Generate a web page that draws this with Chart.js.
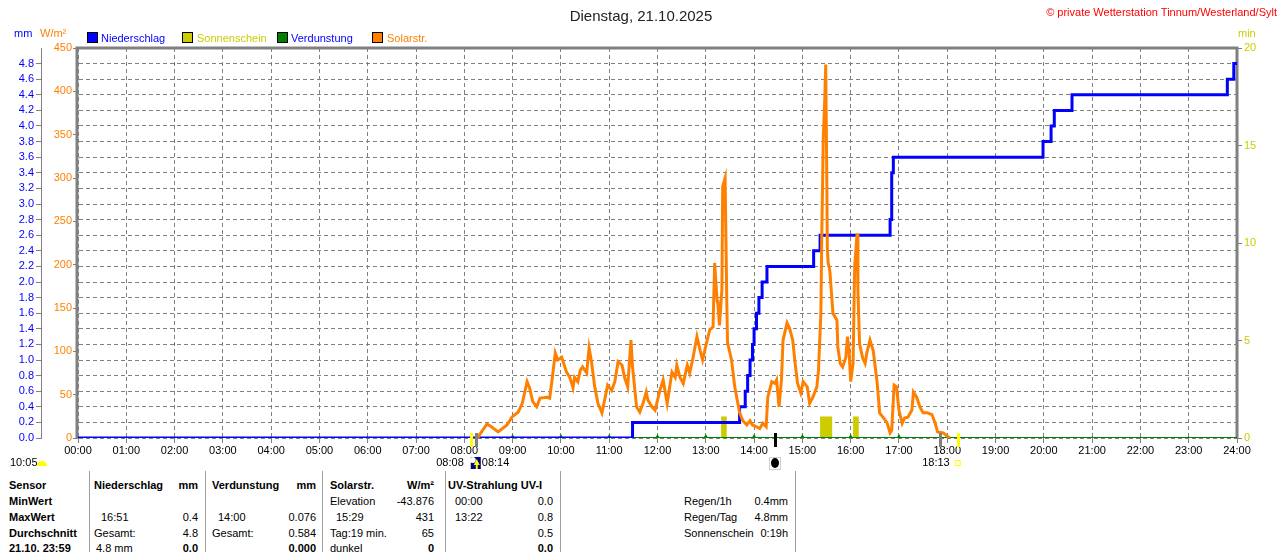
<!DOCTYPE html>
<html>
<head>
<meta charset="utf-8">
<script src="https://cdn.jsdelivr.net/npm/chart.js@4.4.1/dist/chart.umd.min.js"></script>
<style>
  body { margin: 0; background: #fff; font-family: 'Liberation Sans', Arial, sans-serif; }
  #wrap { position: relative; width: 1280px; height: 552px; overflow: hidden; background: #fff; }
  #chart { position: absolute; left: 0; top: 0; }
  .t { position: absolute; font-size: 11px; line-height: 14px; white-space: nowrap; color: #000; }
  .b { font-weight: bold; }
  .sq { position: absolute; width: 9px; height: 9px; border: 1px solid #000; }
  .sep { position: absolute; top: 471px; width: 1px; height: 81px; background: #a0a0a0; }
</style>
</head>
<body>
<div id="wrap">
  <canvas id="chart" width="1280" height="470"></canvas>

  <div class="t" style="left:0;width:1282px;top:7px;text-align:center;font-size:15px;line-height:18px;color:#222">Dienstag, 21.10.2025</div>
  <div class="t" style="right:3px;top:5px;color:#ff0000">© private Wetterstation Tinnum/Westerland/Sylt</div>

  <div class="t" style="left:14px;top:26px;color:#0000ff">mm</div>
  <div class="t" style="left:40px;top:26px;color:#ff8000">W/m²</div>
  <div class="t" style="left:1238px;top:26px;color:#cccc00">min</div>

  <div class="sq" style="left:87px;top:32px;background:#0000ff"></div>
  <div class="t" style="left:101px;top:31px;color:#0000ff">Niederschlag</div>
  <div class="sq" style="left:182px;top:32px;background:#cccc00"></div>
  <div class="t" style="left:197px;top:31px;color:#cccc00">Sonnenschein</div>
  <div class="sq" style="left:277px;top:32px;background:#008000"></div>
  <div class="t" style="left:291px;top:31px;color:#0000ff">Verdunstung</div>
  <div class="sq" style="left:372px;top:32px;background:#ff8000"></div>
  <div class="t" style="left:387px;top:31px;color:#ff8000">Solarstr.</div>

  <div id="table"></div>
</div>

<script>
// Zeit in Minuten seit 00:00
const rainMin = [0, 689, 822, 829, 832, 835, 838, 840, 843, 846, 850, 856, 914, 922, 1009, 1011, 1013, 1199, 1209, 1213, 1235, 1428, 1436, 1440];
const rainMm  = [0, 0.2, 0.4, 0.6, 0.8, 1.0, 1.2, 1.4, 1.6, 1.8, 2.0, 2.2, 2.4, 2.6, 2.8, 3.4, 3.6, 3.8, 4.0, 4.2, 4.4, 4.6, 4.8, 4.8];

const solarMin = [494, 497, 502, 508, 512, 522, 533, 539, 547, 552, 558, 561, 565, 570, 574, 583, 586, 589, 593, 596,
  601, 607, 611, 615, 617, 621, 624, 627, 632, 635, 638, 642, 646, 651, 655, 658, 663, 667, 671, 676,
  679, 683, 687, 689, 694, 698, 702, 706, 708, 713, 717, 723, 727, 732, 738, 742, 744, 748, 752, 757,
  760, 764, 769, 773, 776, 781, 785, 789, 791, 794, 795, 797, 800, 801, 804, 806, 807, 812, 816, 819,
  822, 826, 831, 835, 838, 843, 847, 851, 855, 857, 862, 866, 868, 871, 874, 876, 881, 884, 888, 891,
  894, 898, 901, 906, 909, 913, 918, 920, 923, 924, 926, 928, 929, 930, 931, 932, 934, 938, 943, 944,
  947, 950, 954, 956, 958, 960, 963, 965, 968, 969, 971, 975, 978, 980, 984, 988, 990, 993, 996, 1000,
  1005, 1009, 1011, 1014, 1017, 1020, 1024, 1027, 1031, 1036, 1038, 1042, 1046, 1050, 1055, 1061, 1065, 1068, 1075, 1079, 1083];
const solarW = [0, 1, 8, 16, 14, 7, 15, 24, 30, 40, 65, 58, 42, 36, 46, 47, 46, 67, 98, 90,
  93, 76, 70, 58, 70, 65, 78, 82, 75, 104, 88, 59, 40, 29, 47, 61, 55, 65, 88, 84,
  70, 59, 113, 82, 36, 30, 40, 53, 44, 36, 32, 55, 67, 40, 76, 70, 84, 70, 63, 84,
  75, 92, 117, 101, 90, 110, 125, 128, 202, 159, 155, 130, 171, 290, 300, 163, 110, 90, 59, 44,
  29, 20, 15, 20, 15, 13, 11, 17, 13, 47, 65, 63, 67, 36, 67, 113, 133, 127, 113, 86,
  63, 52, 65, 59, 40, 47, 59, 78, 144, 228, 347, 395, 431, 336, 220, 202, 194, 144, 136, 105,
  86, 82, 93, 117, 101, 65, 86, 198, 236, 171, 109, 92, 86, 98, 113, 101, 86, 63, 29, 24,
  18, 6, 9, 61, 59, 32, 17, 23, 24, 32, 53, 47, 36, 29, 29, 27, 17, 7, 6, 3, 0];

// Sonnenschein in Minuten (rechte Achse)
const sunMin = [0, 799, 806, 922, 937, 963, 970, 1440];
const sunVal = [0, 1.1, 0, 1.1, 0, 1.1, 0, 0];

// Verdunstung: Linie bei 0, Markierungen zur vollen Stunde
const evapMin = [0, 540, 600, 660, 720, 780, 840, 900, 960, 1020, 1080, 1200, 1260, 1320, 1380, 1440];
const evapVal = [0, 0, 0, 0, 0, 0, 0, 0, 0, 0, 0, 0, 0, 0, 0, 0];
const evapMark = [0, 4, 4, 4, 4, 4, 4, 4, 4, 4, 4, 2, 2, 2, 2, 0];

// Ereignisse an der Zeitachse
const eventMin = [488, 494, 866, 1071, 1093];
const eventColor = ['#ffff00', '#808080', '#000000', '#808080', '#ffff00'];

const hourTicks = { min: 0, max: 1440, step: 60 };
const mmAxis = { min: 0, max: 5, step: 0.2 };
const wAxis = { min: 0, max: 450, step: 50 };
const minAxis = { min: 0, max: 20, step: 5 };

const toXY = (xs, ys) => xs.map((x, i) => ({ x: x, y: ys[i] }));
const pad2 = n => String(n).padStart(2, '0');
const tickFont = { family: '"Liberation Sans", Arial, sans-serif', size: 11 };
const gridGray = '#808080';

function fixSize(prop, size) {
    return function(scale) {
        scale[prop] = size;
        scale.paddingLeft = 0;
        scale.paddingRight = 0;
        scale.paddingTop = 0;
        scale.paddingBottom = 0;
    };
}

const framePlugin = {
    id: 'frame',
    beforeDatasetsDraw(chart) {
        const { ctx, chartArea: a } = chart;
        ctx.save();
        ctx.strokeStyle = gridGray;
        ctx.lineWidth = 3;
        ctx.beginPath();
        ctx.moveTo(a.left - 1, a.bottom);
        ctx.lineTo(a.left - 1, a.top);
        ctx.lineTo(a.right, a.top);
        ctx.lineTo(a.right, a.bottom + 1);
        ctx.stroke();
        ctx.restore();
    },
    afterDraw(chart) {
        const { ctx, chartArea: a } = chart;
        const x = chart.scales.x;
        ctx.save();
        eventMin.forEach((m, i) => {
            ctx.fillStyle = eventColor[i];
            ctx.fillRect(Math.round(x.getPixelForValue(m)) - 1, a.bottom - 5, 3, 14);
        });
        ctx.font = '11px "Liberation Sans", Arial, sans-serif';
        ctx.textBaseline = 'middle';
        ctx.fillStyle = '#000';
        ctx.textAlign = 'left';
        ctx.fillText('10:05', 10, 463);
        // halbe Sonne
        ctx.fillStyle = '#ffff00';
        ctx.beginPath();
        ctx.arc(42, 466, 5, Math.PI, 0);
        ctx.fill();

        const xRise = x.getPixelForValue(eventMin[0]);
        const xSet = x.getPixelForValue(eventMin[4]);
        const xMoon = x.getPixelForValue(eventMin[2]);
        ctx.fillStyle = '#000';
        ctx.textAlign = 'right';
        ctx.fillText('08:08', xRise - 7, 463);
        ctx.fillText('18:13', xSet - 8, 463);
        ctx.textAlign = 'left';
        ctx.fillText('08:14', xRise + 11, 463);
        // Sonnenaufgang-Symbol
        ctx.fillStyle = '#000080';
        ctx.fillRect(xRise, 457, 10, 12);
        ctx.fillStyle = '#ffffff';
        ctx.beginPath();
        ctx.arc(xRise + 2, 460, 3, 0, Math.PI * 2);
        ctx.fill();
        ctx.fillStyle = '#ffff00';
        ctx.beginPath();
        ctx.moveTo(xRise + 6, 459);
        ctx.lineTo(xRise + 9, 465);
        ctx.lineTo(xRise + 3, 465);
        ctx.fill();
        ctx.fillRect(xRise + 5, 465, 2, 4);
        // Mond
        ctx.fillStyle = '#000';
        ctx.beginPath();
        ctx.ellipse(xMoon, 463, 4, 5, 0, 0, Math.PI * 2);
        ctx.fill();
        ctx.strokeStyle = '#a0a0a0';
        ctx.setLineDash([1, 1]);
        ctx.lineWidth = 1;
        ctx.strokeRect(xMoon - 5.5, 457.5, 11, 12);
        ctx.setLineDash([]);
        // Sonnenuntergang
        ctx.strokeStyle = '#ffff00';
        ctx.strokeRect(xSet - 2.5, 460.5, 5, 5);
        ctx.restore();
    }
};

new Chart(document.getElementById('chart'), {
    type: 'line',
    data: {
        datasets: [
            {
                label: 'Solarstr.',
                data: toXY(solarMin, solarW),
                yAxisID: 'yW',
                borderColor: '#ff8000',
                borderWidth: 3,
                pointRadius: 0,
                tension: 0
            },
            {
                label: 'Niederschlag',
                data: toXY(rainMin, rainMm),
                yAxisID: 'yMm',
                borderColor: '#0000ff',
                borderWidth: 3,
                pointRadius: 0,
                stepped: true
            },
            {
                label: 'Verdunstung',
                data: toXY(evapMin, evapVal),
                yAxisID: 'yMm',
                borderColor: '#008000',
                backgroundColor: '#008000',
                borderWidth: 2,
                pointStyle: 'triangle',
                pointRadius: evapMark,
                pointBorderWidth: 0
            },
            {
                label: 'Sonnenschein',
                data: toXY(sunMin, sunVal),
                yAxisID: 'yMin',
                borderWidth: 0,
                borderColor: 'rgba(0,0,0,0)',
                backgroundColor: '#cccc00',
                fill: 'origin',
                pointRadius: 0,
                stepped: true
            }
        ]
    },
    options: {
        responsive: false,
        animation: false,
        devicePixelRatio: 1,
        layout: { padding: { top: 48, left: 0, right: 0, bottom: 0 } },
        plugins: {
            legend: { display: false },
            tooltip: { enabled: false }
        },
        scales: {
            x: {
                type: 'linear',
                min: hourTicks.min,
                max: hourTicks.max,
                afterFit: fixSize('height', 32),
                border: { display: false, dash: [4, 3] },
                grid: {
                    color: gridGray,
                    lineWidth: 1,
                    tickColor: gridGray,
                    tickBorderDash: [],
                    tickLength: 5
                },
                ticks: {
                    stepSize: hourTicks.step,
                    autoSkip: false,
                    maxRotation: 0,
                    padding: 1,
                    color: '#000',
                    font: tickFont,
                    callback: v => pad2(Math.round(v / 60)) + ':00'
                }
            },
            yMm: {
                position: 'left',
                weight: 1,
                min: mmAxis.min,
                max: mmAxis.max,
                afterFit: fixSize('width', 41),
                border: { display: true, color: gridGray, width: 1, dash: [4, 3] },
                grid: {
                    color: gridGray,
                    lineWidth: 1,
                    tickColor: ctx => (ctx.tick && ctx.tick.value >= 4.99) ? 'rgba(0,0,0,0)' : gridGray,
                    tickBorderDash: [],
                    tickLength: 5
                },
                ticks: {
                    stepSize: mmAxis.step,
                    autoSkip: false,
                    padding: 2,
                    color: '#0000ff',
                    font: tickFont,
                    callback: v => v >= 4.99 ? '' : v.toFixed(1)
                }
            },
            yW: {
                position: 'left',
                weight: 0,
                min: wAxis.min,
                max: wAxis.max,
                afterFit: fixSize('width', 37),
                border: { display: false },
                grid: {
                    drawOnChartArea: false,
                    color: gridGray,
                    tickLength: 5
                },
                ticks: {
                    stepSize: wAxis.step,
                    autoSkip: false,
                    padding: 1,
                    color: '#ff8000',
                    font: tickFont
                }
            },
            yMin: {
                position: 'right',
                min: minAxis.min,
                max: minAxis.max,
                afterFit: fixSize('width', 43),
                border: { display: false },
                grid: {
                    drawOnChartArea: false,
                    color: gridGray,
                    tickLength: 5
                },
                ticks: {
                    stepSize: minAxis.step,
                    padding: 2,
                    color: '#cccc00',
                    font: tickFont
                }
            }
        }
    },
    plugins: [framePlugin]
});

// Tabelle unter dem Diagramm
const rowY = [478, 494, 510, 526, 541];
const separators = [89, 205, 322, 445, 560, 795];
// [text, x, row, bold, rightAligned]
const cells = [
    ['Sensor', 9, 0, 1, 0], ['MinWert', 9, 1, 1, 0], ['MaxWert', 9, 2, 1, 0], ['Durchschnitt', 9, 3, 1, 0], ['21.10. 23:59', 9, 4, 1, 0],
    ['Niederschlag', 94, 0, 1, 0], ['mm', 198, 0, 1, 1], ['16:51', 101, 2, 0, 0], ['0.4', 198, 2, 0, 1],
    ['Gesamt:', 94, 3, 0, 0], ['4.8', 198, 3, 0, 1], ['4.8 mm', 96, 4, 0, 0], ['0.0', 198, 4, 1, 1],
    ['Verdunstung', 212, 0, 1, 0], ['mm', 316, 0, 1, 1], ['14:00', 218, 2, 0, 0], ['0.076', 316, 2, 0, 1],
    ['Gesamt:', 212, 3, 0, 0], ['0.584', 316, 3, 0, 1], ['0.000', 316, 4, 1, 1],
    ['Solarstr.', 330, 0, 1, 0], ['W/m²', 434, 0, 1, 1], ['Elevation', 330, 1, 0, 0], ['-43.876', 434, 1, 0, 1],
    ['15:29', 336, 2, 0, 0], ['431', 434, 2, 0, 1], ['Tag:19 min.', 330, 3, 0, 0], ['65', 434, 3, 0, 1],
    ['dunkel', 330, 4, 0, 0], ['0', 434, 4, 1, 1],
    ['UV-Strahlung UV-I', 448, 0, 1, 0], ['00:00', 455, 1, 0, 0], ['0.0', 553, 1, 0, 1],
    ['13:22', 455, 2, 0, 0], ['0.8', 553, 2, 0, 1], ['0.5', 553, 3, 0, 1], ['0.0', 553, 4, 1, 1],
    ['Regen/1h', 684, 1, 0, 0], ['0.4mm', 788, 1, 0, 1], ['Regen/Tag', 684, 2, 0, 0], ['4.8mm', 788, 2, 0, 1],
    ['Sonnenschein', 684, 3, 0, 0], ['0:19h', 788, 3, 0, 1]
];

const table = document.getElementById('table');
table.innerHTML = separators.map(x => `<div class="sep" style="left:${x}px"></div>`).join('') +
    cells.map(c => {
        const pos = c[4] ? `right:${1280 - c[1]}px` : `left:${c[1]}px`;
        return `<div class="t${c[3] ? ' b' : ''}" style="${pos};top:${rowY[c[2]]}px">${c[0]}</div>`;
    }).join('');
</script>
</body>
</html>
